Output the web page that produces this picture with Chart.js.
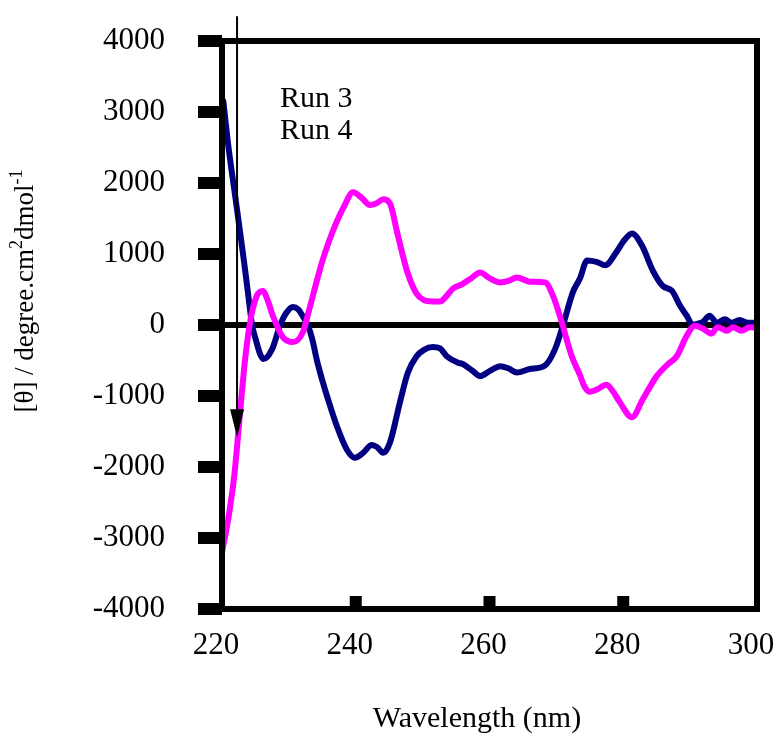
<!DOCTYPE html>
<html lang="en">
<head>
<meta charset="UTF-8">
<title>CD spectra - Run 3 / Run 4</title>
<script src="https://cdn.jsdelivr.net/npm/chart.js"></script>
<style>
    html, body { margin: 0; padding: 0; background: #fff; }
    #wrap { width: 780px; height: 734px; }
</style>
</head>
<body>
<div id="wrap"><canvas id="cdChart" width="780" height="734"></canvas></div>
<script>
// values
const run3Wavelength = [220.2, 220.95, 221.95, 222.7, 223.3, 223.9, 224.5, 225.1, 225.7, 226.2, 227.5, 228.7, 229.6, 230.6, 231.4, 232.1, 232.9, 233.5, 234.2, 235.0, 235.7, 237.2, 238.7, 239.9, 241.1, 242.4, 243.2, 244.1, 245.1, 246.6, 247.8, 249.1, 250.2, 251.5, 252.6, 253.6, 255.3, 256.0, 257.4, 258.6, 260.0, 261.6, 262.8, 264.1, 266.0, 268.3, 269.8, 271.0, 272.5, 273.5, 274.6, 276.0, 277.3, 279.0, 280.2, 281.3, 282.8, 284.4, 285.9, 287.3, 288.5, 289.5, 290.4, 291.2, 291.9, 292.9, 294.0, 295.2, 296.2, 297.4, 298.6, 300];
const run3Theta = [3150, 2520, 1830, 1310, 890, 440, 0, -220, -410, -480, -340, 0, 170, 255, 220, 120, -20, -200, -500, -780, -1000, -1430, -1760, -1870, -1800, -1690, -1720, -1800, -1660, -1090, -670, -440, -350, -310, -330, -440, -530, -550, -640, -720, -650, -580, -610, -670, -620, -570, -340, 0, 470, 650, 910, 890, 840, 1030, 1200, 1290, 1120, 770, 550, 480, 270, 130, 0, 20, 40, 130, 30, 80, 30, 70, 30, 30];

const run4Wavelength = [220.0, 220.9, 221.8, 222.7, 223.4, 224.2, 225.2, 226.1, 226.9, 227.6, 229.1, 230.6, 232.1, 233.0, 234.0, 235.0, 236.0, 237.0, 238.2, 239.6, 240.9, 242.1, 243.2, 244.1, 245.1, 246.3, 247.7, 249.1, 250.2, 251.5, 252.6, 253.6, 254.5, 256.0, 257.3, 258.6, 260.0, 261.6, 262.8, 264.1, 266.0, 268.3, 269.5, 270.8, 272.3, 273.5, 274.2, 275.0, 276.0, 277.5, 278.5, 279.5, 281.3, 282.9, 285.0, 286.7, 288.0, 289.5, 290.7, 291.9, 293.2, 294.1, 295.5, 296.4, 297.7, 298.9, 300];
const run4Theta = [-3200, -2750, -2150, -1240, -530, 40, 410, 480, 330, 130, -170, -240, -100, 200, 560, 900, 1180, 1420, 1660, 1870, 1790, 1690, 1720, 1770, 1715, 1260, 750, 440, 350, 330, 330, 410, 510, 580, 660, 740, 660, 600, 620, 670, 610, 600, 410, 40, -440, -700, -865, -940, -910, -840, -940, -1090, -1300, -1050, -720, -550, -440, -150, -10, -50, -120, -30, -80, -30, -80, -30, -40];

const xTicks = [220, 240, 260, 280, 300];
const yTicks = [-4000, -3000, -2000, -1000, 0, 1000, 2000, 3000, 4000];
const seriesNames = ['Run 3', 'Run 4'];
const arrowMark = { wavelength: 222.25, from: 4350, to: -1580 };

const serif = "'Liberation Serif', 'Times New Roman', serif";
Chart.defaults.font.family = serif;
Chart.defaults.color = '#000';

function toPoints(xs, ys) {
    return xs.map((x, i) => ({ x: x, y: ys[i] }));
}

// stop the scales from pushing the plot area inwards for label overflow
function noScalePadding(s) {
    s.paddingTop = 0;
    s.paddingBottom = 0;
    s.paddingLeft = 0;
    s.paddingRight = 0;
}

// frame, inner x ticks, arrow, texts
const decorations = {
    id: 'decorations',
    afterDatasetsDraw(chart) {
        const ctx = chart.ctx;
        const a = chart.chartArea;
        const xs = chart.scales.x, ys = chart.scales.y;
        ctx.save();

        ctx.strokeStyle = '#000';
        ctx.lineWidth = 6;
        ctx.strokeRect(a.left, a.top, a.right - a.left, a.bottom - a.top);

        ctx.fillStyle = '#000';
        xTicks.slice(1, -1).forEach(v => {
            const px = xs.getPixelForValue(v);
            ctx.fillRect(px - 6, a.bottom - 13, 12, 13);
        });

        // arrow
        const ax = xs.getPixelForValue(arrowMark.wavelength);
        const y1 = ys.getPixelForValue(arrowMark.from);
        const y2 = ys.getPixelForValue(arrowMark.to);
        ctx.lineWidth = 2;
        ctx.beginPath();
        ctx.moveTo(ax, y1);
        ctx.lineTo(ax, y2 - 20);
        ctx.stroke();
        ctx.beginPath();
        ctx.moveTo(ax, y2);
        ctx.lineTo(ax - 7, y2 - 28);
        ctx.lineTo(ax + 7, y2 - 28);
        ctx.closePath();
        ctx.fill();

        // legend text
        ctx.font = '30px ' + serif;
        ctx.textAlign = 'left';
        ctx.textBaseline = 'alphabetic';
        ctx.fillText(seriesNames[0], 280, 107);
        ctx.fillText(seriesNames[1], 280, 139);

        // x title
        ctx.textAlign = 'center';
        ctx.fillText('Wavelength (nm)', 477, 727);

        // y title with superscripts
        const parts = [
            { t: '[\u03B8] / degree.cm', sup: false },
            { t: '2', sup: true },
            { t: 'dmol', sup: false },
            { t: '-1', sup: true }
        ];
        const mainFont = '27px ' + serif, supFont = '18px ' + serif;
        let total = 0;
        parts.forEach(p => {
            ctx.font = p.sup ? supFont : mainFont;
            p.w = ctx.measureText(p.t).width;
            total += p.w;
        });
        ctx.translate(33, 291);
        ctx.rotate(-Math.PI / 2);
        ctx.textAlign = 'left';
        let cx = -total / 2;
        parts.forEach(p => {
            ctx.font = p.sup ? supFont : mainFont;
            ctx.fillText(p.t, cx, p.sup ? -11 : 0);
            cx += p.w;
        });

        ctx.restore();
    }
};

new Chart(document.getElementById('cdChart'), {
    type: 'line',
    data: {
        datasets: [
            {
                label: seriesNames[1],
                data: toPoints(run4Wavelength, run4Theta),
                borderColor: '#ff00ff',
                borderWidth: 6,
                pointRadius: 0,
                cubicInterpolationMode: 'monotone',
                borderJoinStyle: 'round',
                borderCapStyle: 'round'
            },
            {
                label: seriesNames[0],
                data: toPoints(run3Wavelength, run3Theta),
                borderColor: '#000080',
                borderWidth: 6,
                pointRadius: 0,
                cubicInterpolationMode: 'monotone',
                borderJoinStyle: 'round',
                borderCapStyle: 'round'
            }
        ]
    },
    options: {
        responsive: false,
        animation: false,
        layout: { padding: { top: 41, right: 23, left: 0, bottom: 0 } },
        plugins: {
            legend: { display: false },
            tooltip: { enabled: false }
        },
        scales: {
            x: {
                type: 'linear',
                min: 220,
                max: 300,
                afterBuildTicks: s => { s.ticks = xTicks.map(v => ({ value: v })); },
                afterFit: s => { s.height = 125; noScalePadding(s); },
                ticks: { font: { size: 31 }, color: '#000', padding: 18, labelOffset: -6, maxRotation: 0, callback: v => String(v) },
                grid: { drawOnChartArea: false, drawTicks: false },
                border: { display: false }
            },
            y: {
                min: -4000,
                max: 4000,
                afterBuildTicks: s => { s.ticks = yTicks.map(v => ({ value: v })); },
                afterFit: s => { s.width = 222; noScalePadding(s); },
                ticks: { font: { size: 31 }, color: '#000', padding: 33, callback: v => String(v) },
                grid: {
                    drawOnChartArea: true,
                    color: c => (c.tick && c.tick.value === 0) ? '#000' : 'rgba(0,0,0,0)',
                    lineWidth: c => (c.tick && c.tick.value === 0) ? 6 : 0,
                    tickColor: '#000',
                    tickWidth: 12,
                    tickLength: 24
                },
                border: { display: false }
            }
        }
    },
    plugins: [decorations]
});
</script>
</body>
</html>
